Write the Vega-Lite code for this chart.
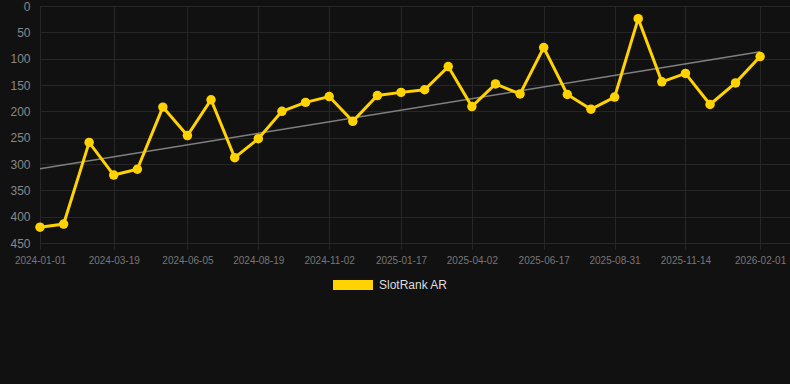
{
  "$schema": "https://vega.github.io/schema/vega-lite/v6.json",
  "width": 750,
  "height": 237,
  "autosize": {"type": "none"},
  "padding": {"left": 40, "top": 6, "right": 0, "bottom": 141},
  "background": "#111111",
  "config": {
    "view": {"stroke": null},
    "font": "Liberation Sans"
  },
  "datasets": {
    "rank": [
      {"date": "2024-01-01", "rank": 420},
      {"date": "2024-01-26", "rank": 414},
      {"date": "2024-02-22", "rank": 259},
      {"date": "2024-03-19", "rank": 321},
      {"date": "2024-04-13", "rank": 310},
      {"date": "2024-05-10", "rank": 192},
      {"date": "2024-06-05", "rank": 246},
      {"date": "2024-06-30", "rank": 178},
      {"date": "2024-07-25", "rank": 288},
      {"date": "2024-08-19", "rank": 252},
      {"date": "2024-09-13", "rank": 200},
      {"date": "2024-10-08", "rank": 183},
      {"date": "2024-11-02", "rank": 172},
      {"date": "2024-11-27", "rank": 219},
      {"date": "2024-12-23", "rank": 170},
      {"date": "2025-01-17", "rank": 164},
      {"date": "2025-02-11", "rank": 159},
      {"date": "2025-03-08", "rank": 115},
      {"date": "2025-04-02", "rank": 191},
      {"date": "2025-04-27", "rank": 148},
      {"date": "2025-05-23", "rank": 167},
      {"date": "2025-06-17", "rank": 79},
      {"date": "2025-07-12", "rank": 168},
      {"date": "2025-08-06", "rank": 196},
      {"date": "2025-08-31", "rank": 173},
      {"date": "2025-09-25", "rank": 24},
      {"date": "2025-10-20", "rank": 144},
      {"date": "2025-11-14", "rank": 128},
      {"date": "2025-12-10", "rank": 187},
      {"date": "2026-01-06", "rank": 146},
      {"date": "2026-02-01", "rank": 96}
    ],
    "trend": [
      {"date": "2024-01-01", "rank": 309},
      {"date": "2026-02-01", "rank": 87}
    ]
  },
  "encoding": {
    "x": {
      "field": "date",
      "type": "temporal",
      "scale": {
        "type": "utc",
        "domain": [
          {"year": 2024, "month": 1, "date": 1, "utc": true},
          {"year": 2026, "month": 3, "date": 4, "hours": 15, "utc": true}
        ],
        "nice": false
      },
      "axis": {
        "title": null,
        "values": [
          {"year": 2024, "month": 1, "date": 1, "utc": true},
          {"year": 2024, "month": 3, "date": 19, "utc": true},
          {"year": 2024, "month": 6, "date": 5, "utc": true},
          {"year": 2024, "month": 8, "date": 19, "utc": true},
          {"year": 2024, "month": 11, "date": 2, "utc": true},
          {"year": 2025, "month": 1, "date": 17, "utc": true},
          {"year": 2025, "month": 4, "date": 2, "utc": true},
          {"year": 2025, "month": 6, "date": 17, "utc": true},
          {"year": 2025, "month": 8, "date": 31, "utc": true},
          {"year": 2025, "month": 11, "date": 14, "utc": true},
          {"year": 2026, "month": 2, "date": 1, "utc": true}
        ],
        "labelExpr": "utcFormat(datum.value, '%Y-%m-%d')",
        "labelAngle": 0,
        "labelColor": "#777777",
        "labelFontSize": 10,
        "labelPadding": 6,
        "labelOverlap": false,
        "labelFlush": false,
        "grid": true,
        "gridColor": "#262626",
        "domain": false,
        "ticks": true,
        "tickColor": "#262626",
        "tickSize": 6
      }
    },
    "y": {
      "field": "rank",
      "type": "quantitative",
      "scale": {"domain": [0, 450], "reverse": true, "nice": false, "zero": false},
      "axis": {
        "title": null,
        "values": [0, 50, 100, 150, 200, 250, 300, 350, 400, 450],
        "labelColor": "#888888",
        "labelFontSize": 12,
        "labelPadding": 10,
        "grid": true,
        "gridColor": "#262626",
        "domain": false,
        "ticks": false
      }
    }
  },
  "layer": [
    {
      "data": {"name": "trend"},
      "mark": {"type": "line", "color": "#808080", "strokeWidth": 1.5}
    },
    {
      "data": {"name": "rank"},
      "mark": {"type": "line", "strokeWidth": 3, "point": {"filled": true, "size": 90, "opacity": 1}},
      "encoding": {
        "color": {
          "datum": "SlotRank AR",
          "type": "nominal",
          "scale": {"range": ["#FFD200"]},
          "legend": {
            "title": null,
            "orient": "none",
            "legendX": 293,
            "legendY": 259,
            "symbolType": "M-1,-0.25L1,-0.25L1,0.25L-1,0.25Z",
            "symbolSize": 1600,
            "symbolStrokeWidth": 0,
            "symbolFillColor": "#FFD200",
            "labelColor": "#DDDDDD",
            "labelFontSize": 12,
            "labelOffset": 6
          }
        }
      }
    }
  ]
}
